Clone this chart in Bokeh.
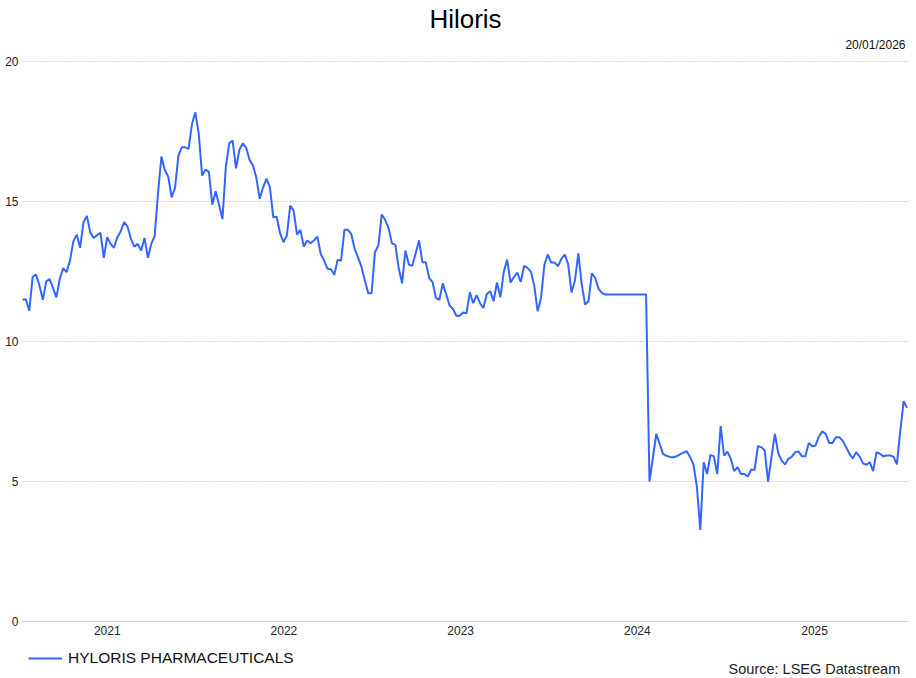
import pandas as pd
from bokeh.plotting import figure
from bokeh.layouts import column
from bokeh.models import (ColumnDataSource, Range1d, FixedTicker, DatetimeTickFormatter,
                          Legend, LegendItem, Title, Label)
from bokeh.embed import file_html
from bokeh.resources import INLINE

# ---------------- data ----------------
title_text = "Hiloris"
date_text = "20/01/2026"
series_name = "HYLORIS PHARMACEUTICALS"
source_text = "Source: LSEG Datastream"
start_date = "2020-07-10"          # first weekly observation
y_ticks = [0, 5, 10, 15, 20]
year_ticks = ["2021-01-01", "2022-01-01", "2023-01-01", "2024-01-01", "2025-01-01"]

prices = [
    11.49, 11.51, 11.10, 12.32, 12.39, 12.00, 11.49, 12.15, 12.23, 11.92,
    11.58, 12.24, 12.62, 12.48, 12.89, 13.58, 13.82, 13.35, 14.26, 14.49,
    13.90, 13.70, 13.80, 13.88, 12.99, 13.73, 13.49, 13.35, 13.73, 13.94,
    14.27, 14.10, 13.67, 13.39, 13.49, 13.25, 13.70, 12.99, 13.49, 13.77,
    15.33, 16.61, 16.13, 15.89, 15.15, 15.49, 16.63, 16.94, 16.94, 16.88,
    17.77, 18.19, 17.42, 15.93, 16.14, 16.06, 14.89, 15.37, 14.89, 14.38,
    16.25, 17.08, 17.18, 16.19, 16.85, 17.08, 16.92, 16.49, 16.29, 15.85,
    15.10, 15.51, 15.82, 15.51, 14.44, 14.46, 13.87, 13.55, 13.79, 14.86,
    14.68, 13.82, 13.99, 13.39, 13.61, 13.51,
    13.61, 13.75, 13.13, 12.89, 12.60, 12.58, 12.39, 12.92, 12.89, 13.99,
    13.99, 13.85, 13.31, 13.01, 12.68, 12.18, 11.73, 11.73, 13.19, 13.43,
    14.54, 14.35, 14.06, 13.51, 13.46, 12.63, 12.08, 13.25, 12.75, 12.71,
    13.15, 13.61, 12.83, 12.83, 12.27, 12.12, 11.56, 11.49, 12.08, 11.70,
    11.29,
    11.17, 10.92, 10.92, 11.04, 11.01, 11.76, 11.37, 11.66, 11.37, 11.20,
    11.70, 11.80, 11.44, 12.11, 11.58, 12.48, 12.93, 12.11, 12.30, 12.46,
    12.13, 12.70, 12.63, 12.50, 11.99, 11.08, 11.56, 12.75, 13.11, 12.82,
    12.82, 12.70, 12.95, 13.11, 12.77, 11.75, 12.18, 13.15, 12.06, 11.32,
    11.44, 12.44, 12.27, 11.88, 11.73,
    11.68, 11.68, 11.68, 11.68, 11.68, 11.68, 11.68, 11.68, 11.68, 11.68,
    11.68, 11.68, 11.68,
    5.00, 5.85, 6.70, 6.35, 5.99, 5.92, 5.88, 5.87, 5.90, 5.97,
    6.03, 6.08, 5.87, 5.60, 4.80,
    3.27, 5.69, 5.27, 5.95, 5.90, 5.27, 6.98, 5.93, 6.07, 5.81,
    5.37, 5.51, 5.27, 5.27, 5.18, 5.42, 5.42, 6.26, 6.23, 6.11,
    5.00, 5.87, 6.70, 6.01, 5.75, 5.61, 5.81, 5.89, 6.05, 6.07,
    5.90, 5.90, 6.38, 6.26, 6.29, 6.61, 6.79, 6.70, 6.38, 6.38,
    6.58, 6.58, 6.46, 6.23, 5.99, 5.83, 6.05, 5.89, 5.65, 5.60,
    5.69, 5.37, 6.05, 5.99, 5.90, 5.93, 5.93, 5.89, 5.61, 6.80,
    7.87, 7.63,
]

dates = pd.date_range(start_date, periods=len(prices), freq="7D")
src = ColumnDataSource(dict(date=dates, price=prices))

FONT = "Liberation Sans"
LINE_COLOR = "#3366ff"

x0 = pd.Timestamp(start_date)
x1 = x0 + pd.Timedelta(days=1830)

def ms(ts):
    return ts.value / 1e6

# ---------------- main chart ----------------
p = figure(width=916, height=640, x_axis_type="datetime",
           output_backend="svg", toolbar_location=None,
           x_range=Range1d(x0, x1), y_range=Range1d(0, 20.04),
           min_border_left=22, min_border_right=8,
           min_border_top=60, min_border_bottom=19)
p.outline_line_color = None
p.background_fill_color = "white"
p.border_fill_color = "white"

p.title = Title(text=title_text, align="center", text_font=FONT,
                text_font_size="26px", text_font_style="normal",
                text_color="#000000", standoff=-4)
p.add_layout(Title(text=date_text, align="right", offset=3, text_font=FONT,
                   text_font_size="12px", text_font_style="normal",
                   text_color="#111111", standoff=13, vertical_align="top"), "above")

p.xaxis.ticker = FixedTicker(ticks=[ms(pd.Timestamp(d)) for d in year_ticks])
p.xaxis.formatter = DatetimeTickFormatter(years="%Y", months="%Y", days="%Y",
                                          hours="%Y", minutes="%Y")
p.xaxis.major_tick_line_color = None
p.xaxis.minor_tick_line_color = None
p.xaxis.major_tick_out = 0
p.xaxis.major_tick_in = 0
p.xaxis.minor_tick_out = 0
p.xaxis.axis_line_color = "#9a9a9a"
p.xaxis.axis_line_dash = "1 1"
p.xaxis.major_label_standoff = 4
p.xaxis.major_label_text_font = FONT
p.xaxis.major_label_text_font_size = "12px"
p.xaxis.major_label_text_color = "#222222"

p.yaxis.ticker = FixedTicker(ticks=y_ticks)
p.yaxis.axis_line_color = None
p.yaxis.major_tick_line_color = None
p.yaxis.minor_tick_line_color = None
p.yaxis.major_tick_out = 0
p.yaxis.major_tick_in = 0
p.yaxis.minor_tick_out = 0
p.yaxis.major_label_standoff = 4
p.yaxis.major_label_text_font = FONT
p.yaxis.major_label_text_font_size = "12px"
p.yaxis.major_label_text_color = "#222222"

p.xgrid.visible = False
p.ygrid.grid_line_color = "#aaaaaa"
p.ygrid.grid_line_dash = "1 2"
p.ygrid.grid_line_width = 1

p.line("date", "price", source=src, line_color=LINE_COLOR, line_width=2)

# ---------------- legend / source strip ----------------
p2 = figure(width=916, height=38, output_backend="svg", toolbar_location=None,
            x_range=Range1d(0, 916), y_range=Range1d(0, 38),
            x_axis_location=None, y_axis_location=None,
            min_border_left=0, min_border_right=0,
            min_border_top=0, min_border_bottom=0)
p2.outline_line_color = None
p2.xgrid.visible = False
p2.ygrid.visible = False
p2.background_fill_color = "white"
p2.border_fill_color = "white"

# the series itself provides the legend key (its dates lie far outside this strip)
key = p2.line("date", "price", source=src, line_color=LINE_COLOR, line_width=2)
legend = Legend(items=[LegendItem(label=series_name, renderers=[key])],
                location=(6, 11), orientation="horizontal",
                glyph_width=34, glyph_height=16, label_height=16,
                label_standoff=6, padding=0, margin=0, spacing=0,
                border_line_color=None, background_fill_alpha=0,
                label_text_font=FONT, label_text_font_size="15.5px",
                label_text_color="#111111")
p2.add_layout(legend, "center")
p2.add_layout(Label(x=730, y=2, text=source_text, text_align="left",
                    text_baseline="bottom", text_font=FONT,
                    text_font_size="14.5px", text_color="#222222"))

layout = column(p, p2)
open("out.html", "w").write(file_html(layout, INLINE))
